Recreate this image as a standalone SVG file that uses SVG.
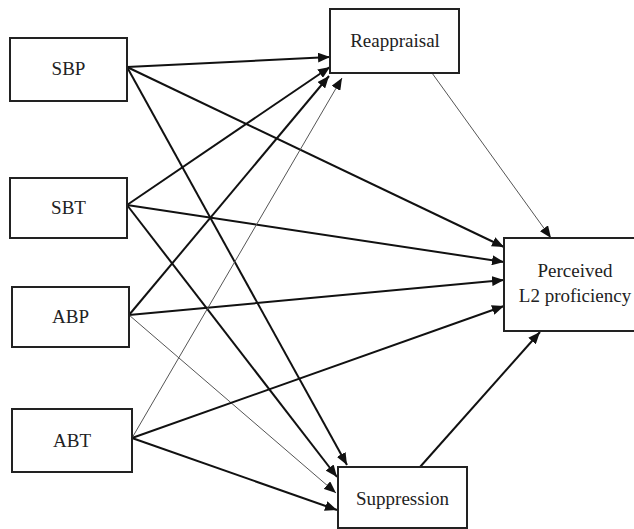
<svg xmlns="http://www.w3.org/2000/svg" width="634" height="529" viewBox="0 0 634 529">
<style>
.box{fill:#fff;stroke:#222;stroke-width:2}
.lbl{font-family:"Liberation Serif","Times New Roman",serif;font-size:19px;fill:#222;text-anchor:middle}
.thick{stroke:#111;stroke-width:2;fill:none;marker-end:url(#ah)}
.thin{stroke:#555;stroke-width:1;fill:none;marker-end:url(#ah)}
</style>
<defs>
<marker id="ah" markerUnits="userSpaceOnUse" markerWidth="12" markerHeight="10" refX="12" refY="5" orient="auto">
<path d="M0,0 L12,5 L0,10 z" fill="#111"/>
</marker>
</defs>
<rect width="634" height="529" fill="#fff"/>
<g id="connectors">
<line class="thick" x1="127" y1="67" x2="330" y2="57"/>
<line class="thick" x1="127" y1="67" x2="504" y2="247"/>
<line class="thick" x1="127" y1="67" x2="347" y2="465"/>
<line class="thick" x1="127" y1="205" x2="330" y2="67"/>
<line class="thick" x1="127" y1="205" x2="504" y2="262"/>
<line class="thick" x1="127" y1="205" x2="337" y2="477"/>
<line class="thick" x1="129" y1="315" x2="329" y2="76"/>
<line class="thick" x1="129" y1="315" x2="504" y2="280"/>
<line class="thin" x1="129" y1="315" x2="336" y2="493"/>
<line class="thin" x1="132" y1="438" x2="342" y2="78"/>
<line class="thick" x1="132" y1="438" x2="504" y2="306"/>
<line class="thick" x1="132" y1="438" x2="337" y2="510"/>
<line class="thin" x1="432" y1="73" x2="551" y2="238"/>
<line class="thick" x1="420" y1="467" x2="540" y2="332"/>
</g>
<g id="SBP"><rect class="box" x="10" y="38" width="117" height="63"/><text class="lbl" x="68.5" y="75">SBP</text></g>
<g id="SBT"><rect class="box" x="10" y="178" width="117" height="60"/><text class="lbl" x="68.5" y="214">SBT</text></g>
<g id="ABP"><rect class="box" x="12" y="287" width="117" height="60"/><text class="lbl" x="70.5" y="323">ABP</text></g>
<g id="ABT"><rect class="box" x="12" y="409" width="120" height="63"/><text class="lbl" x="72" y="447">ABT</text></g>
<g id="Reappraisal"><rect class="box" x="330" y="9" width="129" height="64"/><text class="lbl" x="395" y="47">Reappraisal</text></g>
<g id="Perceived"><rect class="box" x="504" y="238" width="142" height="93"/><text class="lbl" x="575" y="277">Perceived</text><text class="lbl" x="575" y="302">L2 proficiency</text></g>
<g id="Suppression"><rect class="box" x="338" y="467" width="129" height="61"/><text class="lbl" x="402.5" y="505">Suppression</text></g>
</svg>
